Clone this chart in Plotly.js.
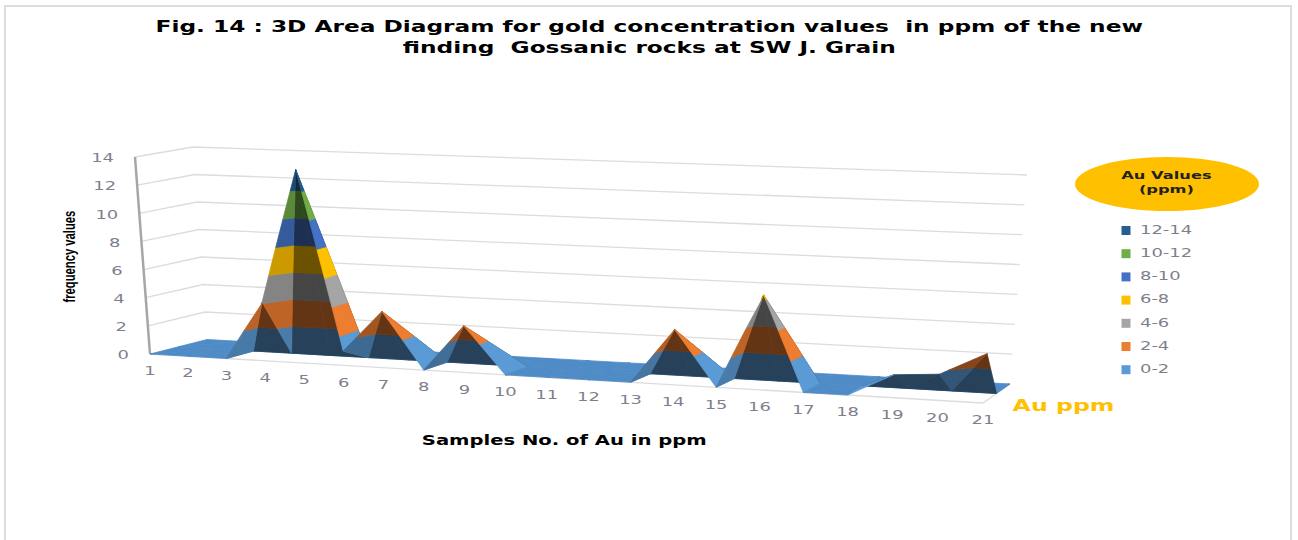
<!DOCTYPE html>
<html><head><meta charset="utf-8">
<script src="https://cdn.plot.ly/plotly-3.0.1.min.js"></script>
<style>html,body{margin:0;padding:0;background:#fff}</style></head>
<body><div id="chart" style="width:1298px;height:540px"></div>
<script>
// ---- data ----
const samples = [1,2,3,4,5,6,7,8,9,10,11,12,13,14,15,16,17,18,19,20,21];
const frontRow = [0,0,0,4.1,13.5,1,3.9,0,3.2,0,0,0,0,3.7,0,6.3,0,0,1.5,1.7,3.2];
const middleRow = samples.map(()=>0);
const backRow = samples.map(()=>0);
const rowDepths = [0,0.5,1];
const bandLabels = ['0-2','2-4','4-6','6-8','8-10','10-12','12-14'];
const bandLow = [0,2,4,6,8,10,12];
const bandHigh = [2,4,6,8,10,12,14];
const bandColors = ['#5b9bd5','#ed7d31','#a5a5a5','#ffc000','#4472c4','#70ad47','#255e91'];
const floorColor = '#4f8bc6';
const valueTicks = [0,2,4,6,8,10,12,14];
const titleText = 'Fig. 14 : 3D Area Diagram for gold concentration values&nbsp; in ppm of the new<br>finding&nbsp; Gossanic rocks at SW J. Grain';

// ---- oblique projection of the box (sample position, depth, value) onto the page ----
const floorC = {fl:[150,354],fr:[983,403],bl:[207,339.5],br:[1010,384]};
const topC = {fl:[135,157],fr:[1001,187],bl:[193,147],br:[1027,175]};
function bil(c,u,d,i){return (1-u)*(1-d)*c.fl[i]+u*(1-d)*c.fr[i]+(1-u)*d*c.bl[i]+u*d*c.br[i];}
function project(s,d,v){
  const t=(s-1)/20, u=t/(1.1*(1-t)+t), k=v/14;
  return [0,1].map(i=>bil(floorC,u,d,i)*(1-k)+bil(topC,u,d,i)*k);
}
function shade(hex,f){
  const n=parseInt(hex.slice(1),16);
  return 'rgb('+[(n>>16)&255,(n>>8)&255,n&255].map(c=>Math.round(c*f)).join(',')+')';
}
function clip(poly,lo,hi){
  function cut(p,keep,level){
    const out=[];
    for(let i=0;i<p.length;i++){
      const a=p[i],b=p[(i+1)%p.length],ka=keep(a[2]),kb=keep(b[2]);
      if(ka)out.push(a);
      if(ka!==kb){const r=(level-a[2])/(b[2]-a[2]);out.push([a[0]+r*(b[0]-a[0]),a[1]+r*(b[1]-a[1]),level]);}
    }
    return out;
  }
  return cut(cut(poly,v=>v>=lo,lo),v=>v<=hi,hi);
}
function area(p){let a=0;for(let i=0;i<p.length;i++){const q=p[(i+1)%p.length];a+=p[i][0]*q[1]-q[0]*p[i][1];}return a/2;}

const traces=[];
function line(pts,color,width){
  traces.push({type:'scatter',mode:'lines',x:pts.map(p=>p[0]),y:pts.map(p=>p[1]),line:{color:color,width:width},hoverinfo:'skip',showlegend:false});
}
// wall grid
valueTicks.slice(1).forEach(v=>{
  line([project(1,0,v),project(1,1,v),project(21,1,v)],'#dcdcdc',1.3);
});
line([project(1,0,0),project(21,0,0),project(21,1,0)],'#dcdcdc',1.3);
line([project(1,0,0),project(1,0,14)],'#a6a6a6',2.5);

function triangle(vs){
  const [A,B,C]=vs;
  const det=(B[0]-A[0])*(C[1]-A[1])-(C[0]-A[0])*(B[1]-A[1]);
  const slope=((B[2]-A[2])*(C[1]-A[1])-(C[2]-A[2])*(B[1]-A[1]))/det;
  const flat=area(vs.map(p=>project(p[0],p[1],0)));
  const real=area(vs.map(p=>project(p[0],p[1],p[2])));
  const top=(flat>0)===(real>0);
  const isFloor=vs.every(p=>p[2]===0);
  let f=1;
  if(!isFloor && !top) f=slope>0 ? 0.42+Math.min(0.38,slope*0.09) : 0.42;
  bandLow.forEach((lo,b)=>{
    const poly=clip(vs,lo,bandHigh[b]);
    if(poly.length<3)return;
    const pp=poly.map(p=>project(p[0],p[1],p[2]));
    if(Math.abs(area(pp))<0.01)return;
    pp.push(pp[0]);
    const col=isFloor?floorColor:shade(bandColors[b],f);
    traces.push({type:'scatter',mode:'lines',x:pp.map(p=>p[0]),y:pp.map(p=>p[1]),fill:'toself',fillcolor:col,line:{color:col,width:0.8},hoverinfo:'skip',showlegend:false});
  });
}
const rows=[frontRow,middleRow,backRow];
for(const r of [1,0]){
  const near=rows[r],far=rows[r+1],dn=rowDepths[r],df=rowDepths[r+1];
  for(let i=0;i<samples.length-1;i++){
    const s0=samples[i],s1=samples[i+1];
    const N0=[s0,dn,near[i]],N1=[s1,dn,near[i+1]],F0=[s0,df,far[i]],F1=[s1,df,far[i+1]];
    if(near[i+1]>near[i]){
      triangle([N1,F0,F1]);triangle([N0,N1,F0]);
    }else{
      triangle([N0,F0,F1]);triangle([N0,N1,F1]);
    }
  }
}
const tickFont={family:'DejaVu Sans',size:13,color:'#7f7f8c'};
// value ticks
traces.push({type:'scatter',mode:'text',x:valueTicks.map(v=>project(1,0,v)[0]-21),y:valueTicks.map(v=>project(1,0,v)[1]+2),
  text:valueTicks.map(String),textposition:'middle left',textfont:tickFont,hoverinfo:'skip',showlegend:false});
// category ticks
traces.push({type:'scatter',mode:'text',x:samples.map(s=>project(s,0,0)[0]),y:samples.map(s=>project(s,0,0)[1]+18),
  text:samples.map(String),textposition:'middle center',textfont:tickFont,hoverinfo:'skip',showlegend:false});
// legend, top to bottom
const legendOrder=[6,5,4,3,2,1,0];
legendOrder.forEach((b,i)=>{
  const y=230.5+i*23.2;
  traces.push({type:'scatter',mode:'markers',name:bandLabels[b],x:[1126],y:[y],marker:{symbol:'square',size:9,color:bandColors[b]},hoverinfo:'skip',showlegend:false});
  traces.push({type:'scatter',mode:'text',name:bandLabels[b],x:[1140],y:[y],text:[bandLabels[b]],textposition:'middle right',textfont:tickFont,hoverinfo:'skip',showlegend:false});
});

const layout={
  width:1298,height:540,margin:{l:0,r:0,t:0,b:0},paper_bgcolor:'#fff',plot_bgcolor:'#fff',showlegend:false,
  xaxis:{range:[0,1298],visible:false,fixedrange:true},
  yaxis:{range:[540,0],visible:false,fixedrange:true},
  shapes:[
    {type:'rect',xref:'x',yref:'y',x0:5,y0:6,x1:1291,y1:560,line:{color:'#dcdcdc',width:2},layer:'below'},
    {type:'circle',xref:'x',yref:'y',x0:1075,y0:157,x1:1259,y1:211,fillcolor:'#ffc000',line:{color:'#ffc000',width:0},layer:'below'}
  ],
  annotations:[
    {xref:'paper',yref:'paper',x:649/1298,y:1-37.5/540,xanchor:'center',yanchor:'middle',showarrow:false,align:'center',text:'<b>'+titleText+'</b>',font:{family:'DejaVu Sans',size:16.5,color:'#000'}},
    {xref:'x',yref:'y',x:1167,y:182,xanchor:'center',yanchor:'middle',showarrow:false,align:'center',text:'<b>Au Values<br>(ppm)</b>',font:{family:'DejaVu Sans',size:11,color:'#222'}},
    {xref:'x',yref:'y',x:1063,y:405,xanchor:'center',yanchor:'middle',showarrow:false,text:'<b>Au ppm</b>',font:{family:'DejaVu Sans',size:16.5,color:'#ffc000'}},
    {xref:'x',yref:'y',x:564,y:440,xanchor:'center',yanchor:'middle',showarrow:false,text:'<b>Samples No. of Au in ppm</b>',font:{family:'DejaVu Sans',size:13.5,color:'#000'}},
    {xref:'x',yref:'y',x:69,y:257,xanchor:'center',yanchor:'middle',showarrow:false,textangle:-90,text:'<b>frequency values</b>',font:{family:'Liberation Sans',size:16,color:'#000'}}
  ]
};
// the picture's lettering is stretched sideways (the lettering only: still real text)
function widen(el,sx,origin){
  const b=el.getBBox();
  const ox=origin==='left'?b.x:origin==='right'?b.x+b.width:b.x+b.width/2;
  const old=el.getAttribute('transform')||'';
  el.setAttribute('transform',old+' translate('+ox+',0) scale('+sx+',1) translate('+(-ox)+',0)');
}
const annotationWidths=[988,91,102,285,92];
Plotly.newPlot('chart',traces,layout,{displayModeBar:false,staticPlot:true}).then(gd=>{
  gd.querySelectorAll('.annotation').forEach((g,i)=>{
    const t=g.querySelector('text');
    widen(t,annotationWidths[i]/t.getBBox().width,'center');
  });
  gd.querySelectorAll('.textpoint text').forEach(t=>{
    const a=t.getAttribute('text-anchor');
    widen(t,1.38,a==='start'?'left':a==='end'?'right':'center');
  });
});
</script></body></html>
